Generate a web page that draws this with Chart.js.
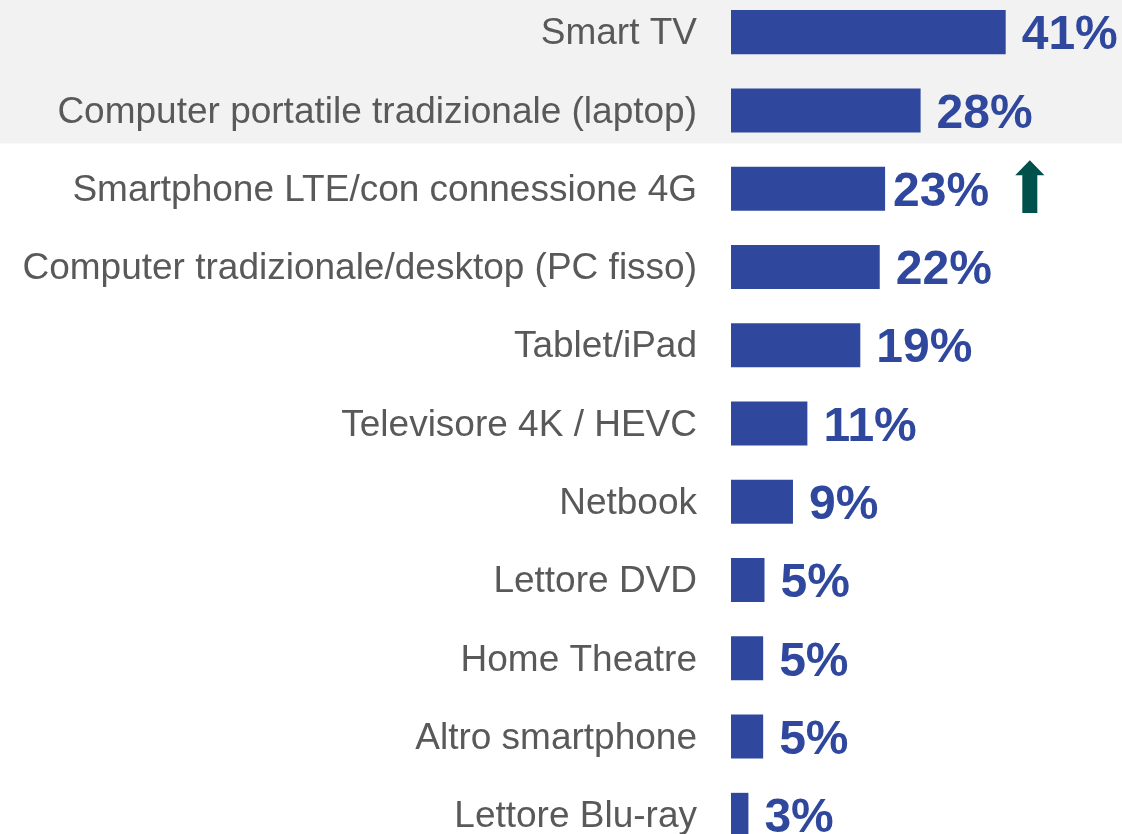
<!DOCTYPE html>
<html>
<head>
<meta charset="utf-8">
<script src="https://cdn.jsdelivr.net/npm/chart.js@4/dist/chart.umd.min.js"></script>
<style>
  html, body { margin: 0; padding: 0; background: #ffffff; overflow: hidden; width: 1122px; height: 834px; }
  #wrap { position: absolute; left: 0; top: -7px; width: 1122px; height: 861px; }
</style>
</head>
<body>
<div id="wrap"><canvas id="c"></canvas></div>
<script>
const categories = [
  "Smart TV",
  "Computer portatile tradizionale (laptop)",
  "Smartphone LTE/con connessione 4G",
  "Computer tradizionale/desktop (PC fisso)",
  "Tablet/iPad",
  "Televisore 4K / HEVC",
  "Netbook",
  "Lettore DVD",
  "Home Theatre",
  "Altro smartphone",
  "Lettore Blu-ray"
];
const values = [41, 28.3, 23, 22.2, 19.3, 11.4, 9.25, 5, 4.8, 4.8, 2.6];
const valueLabels = ["41%", "28%", "23%", "22%", "19%", "11%", "9%", "5%", "5%", "5%", "3%"];
const highlightedRows = [0, 1];
const arrowRows = [2];

const BAR = "#2F489E";
const GREY_TEXT = "#595959";

const bandPlugin = {
  id: "band",
  beforeDraw(chart) {
    const ctx = chart.ctx;
    const y = chart.scales.y;
    const last = Math.max(...highlightedRows);
    const pitch = y.getPixelForValue(1) - y.getPixelForValue(0);
    const bottom = y.getPixelForValue(last) + pitch * 0.423;
    ctx.save();
    ctx.fillStyle = "#F2F2F2";
    ctx.fillRect(0, 0, chart.width, bottom);
    ctx.restore();
  }
};

const labelPlugin = {
  id: "vlabels",
  afterDatasetsDraw(chart) {
    const ctx = chart.ctx;
    const meta = chart.getDatasetMeta(0);
    ctx.save();
    ctx.font = "bold 48px 'Liberation Sans', Arial, sans-serif";
    ctx.fillStyle = BAR;
    ctx.textAlign = "left";
    ctx.textBaseline = "middle";
    meta.data.forEach((bar, i) => {
      const gap = arrowRows.includes(i) ? 8 : 16;
      ctx.fillText(valueLabels[i], bar.x + gap, bar.y + 4);
    });
    // up arrows
    const xs = chart.scales.x;
    ctx.fillStyle = "#00504C";
    arrowRows.forEach(i => {
      const bar = meta.data[i];
      const cx = xs.getPixelForValue(44.6);
      const top = bar.y - 28.4, headBase = bar.y - 13.4, bottom = bar.y + 24.3;
      ctx.beginPath();
      ctx.moveTo(cx, top);
      ctx.lineTo(cx + 14.6, headBase);
      ctx.lineTo(cx + 7.5, headBase);
      ctx.lineTo(cx + 7.5, bottom);
      ctx.lineTo(cx - 7.5, bottom);
      ctx.lineTo(cx - 7.5, headBase);
      ctx.lineTo(cx - 14.6, headBase);
      ctx.closePath();
      ctx.fill();
    });
    ctx.restore();
  }
};

new Chart(document.getElementById("c"), {
  type: "bar",
  data: {
    labels: categories,
    datasets: [{
      data: values,
      backgroundColor: BAR,
      borderWidth: 0,
      barPercentage: 0.563,
      categoryPercentage: 1
    }]
  },
  options: {
    indexAxis: "y",
    responsive: true,
    maintainAspectRatio: false,
    animation: false,
    devicePixelRatio: 1,
    layout: { padding: 0 },
    plugins: { legend: { display: false }, tooltip: { enabled: false } },
    scales: {
      x: { display: false, min: 0, max: 58.36 },
      y: {
        afterFit(scale) { scale.width = 731; scale.paddingTop = 0; scale.paddingBottom = 0; },
        grid: { display: false, drawTicks: false },
        border: { display: false },
        ticks: {
          autoSkip: false,
          padding: 34,
          labelOffset: 2,
          color: GREY_TEXT,
          font: { family: "'Liberation Sans', Arial, sans-serif", size: 37 }
        }
      }
    }
  },
  plugins: [bandPlugin, labelPlugin]
});
</script>
</body>
</html>
